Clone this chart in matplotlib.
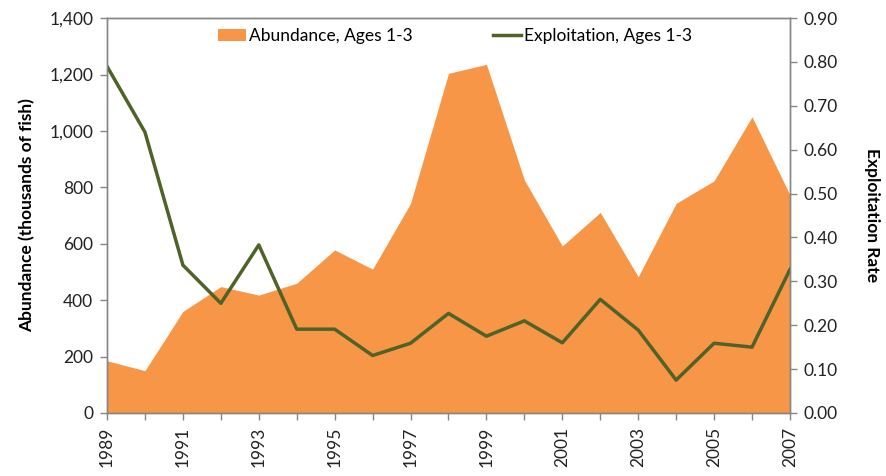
import numpy as np
import matplotlib
matplotlib.use("Agg")
import matplotlib.pyplot as plt
from matplotlib.patches import Patch
from matplotlib.lines import Line2D
from matplotlib.ticker import FuncFormatter

plt.rcParams['font.family'] = ['Lato', 'DejaVu Sans']

years = list(range(1989, 2008))
abundance = [185, 150, 360, 448, 418, 460, 578, 510, 743, 1204, 1236,
             826, 592, 711, 483, 743, 823, 1050, 773]
exploitation = [0.79, 0.64, 0.337, 0.25, 0.383, 0.191, 0.191, 0.131, 0.159,
                0.227, 0.175, 0.21, 0.16, 0.259, 0.189, 0.075, 0.159, 0.15, 0.327]

orange = '#F79646'
green = '#4F6228'
grey = '#868686'
fs = 12.5

fig = plt.figure(figsize=(8.86, 4.76), dpi=100)
ax = fig.add_axes([0.1208, 0.1324, 0.7708, 0.8296])
ax.fill_between(years, abundance, 0, color=orange, linewidth=0)
ax.set_xlim(1989, 2007)
ax.set_ylim(0, 1400)
ax.set_yticks(range(0, 1401, 200))
ax.yaxis.set_major_formatter(FuncFormatter(lambda v, p: f"{int(v):,}"))
ax.set_xticks(years)
ax.set_xticklabels([str(y) if (y - 1989) % 2 == 0 else '' for y in years], rotation=90)
ax.set_ylabel('Abundance (thousands of fish)', fontsize=fs, fontweight='bold', labelpad=10)

ax2 = ax.twinx()
ax2.plot(years, exploitation, color=green, linewidth=2.5)
ax2.set_ylim(0, 0.9)
ax2.set_yticks(np.arange(0, 0.91, 0.1))
ax2.yaxis.set_major_formatter(FuncFormatter(lambda v, p: f"{v:.2f}"))
ax2.set_ylabel('Exploitation Rate', fontsize=fs, fontweight='bold', rotation=270, labelpad=30)

for a in (ax, ax2):
    for s in a.spines.values():
        s.set_color(grey)
        s.set_linewidth(1)
    a.tick_params(axis='both', colors=grey, labelcolor='#222222', labelsize=fs,
                  direction='out', length=5, width=1, pad=5)

handles = [Patch(facecolor=orange, edgecolor='none'),
           Line2D([0], [0], color=green, linewidth=2.5)]
ax2.legend(handles, ['Abundance, Ages 1-3', 'Exploitation, Ages 1-3'],
           loc='upper center', bbox_to_anchor=(0.51, 1.015), ncol=2, frameon=False,
           fontsize=fs, handlelength=1.6, handletextpad=0.2, columnspacing=4.6)

fig.savefig('out.png', dpi=100)
